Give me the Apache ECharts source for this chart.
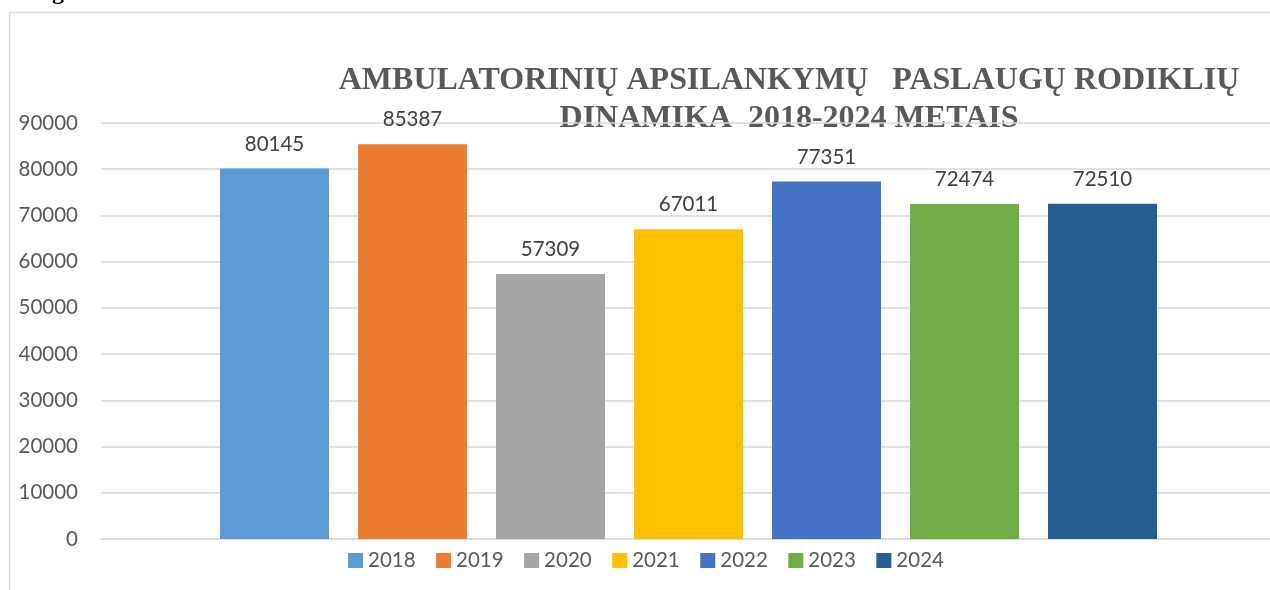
<!DOCTYPE html>
<html>
<head>
<meta charset="utf-8">
<script src="https://cdn.jsdelivr.net/npm/echarts@6/dist/echarts.min.js"></script>
<style>
  html, body { margin: 0; padding: 0; background: #fff; }
  #chart { width: 1270px; height: 590px; }
</style>
</head>
<body>
<div id="chart"></div>
<script>
  // metai ir apsilankymų skaičiai
  var years = ['2018', '2019', '2020', '2021', '2022', '2023', '2024'];
  var visits = [80145, 85387, 57309, 67011, 77351, 72474, 72510];
  var colors = ['#5B9BD5', '#ED7D31', '#A5A5A5', '#FFC000', '#4472C4', '#70AD47', '#255E91'];
  var yTicks = { min: 0, max: 90000, step: 10000 };

  var labelFont = 'Lato, "Noto Sans", sans-serif';

  var series = years.map(function (y, i) {
    return {
      name: y,
      type: 'bar',
      data: [visits[i]],
      barWidth: 109,
      barGap: '26.6%',
      itemStyle: { color: colors[i] },
      label: {
        show: true,
        position: 'top',
        distance: 14,
        color: '#404040',
        fontSize: 20.5,
        fontFamily: labelFont
      }
    };
  });

  var chart = echarts.init(document.getElementById('chart'));
  chart.setOption({
    animation: false,
    graphic: [
      {
        type: 'rect',
        shape: { x: 9.5, y: 12.5, width: 1400, height: 700 },
        style: { fill: 'none', stroke: '#d9d9d9', lineWidth: 1.5 },
        silent: true
      },
      {
        type: 'text',
        x: 16, y: 5,
        style: {
          text: 'Diagrama',
          font: 'bold 24px "Liberation Serif", serif',
          fill: '#000',
          verticalAlign: 'bottom'
        }
      },
      {
        type: 'text',
        x: 789, y: 62,
        style: {
          text: 'AMBULATORINIŲ APSILANKYMŲ   PASLAUGŲ RODIKLIŲ\nDINAMIKA  2018-2024 METAIS',
          font: 'bold 32px "Liberation Serif", serif',
          fill: '#595959',
          align: 'center',
          verticalAlign: 'top',
          lineHeight: 38
        }
      }
    ],
    legend: {
      data: years,
      left: 343,
      top: 545,
      itemWidth: 15,
      itemHeight: 15,
      itemGap: 20.5,
      icon: 'rect',
      textStyle: { color: '#595959', fontSize: 20.5, fontFamily: labelFont }
    },
    grid: {
      left: 101,
      right: -6,
      top: 123,
      bottom: 51,
      outerBoundsMode: 'none'
    },
    xAxis: {
      type: 'category',
      data: [''],
      axisLine: { show: true, lineStyle: { color: '#d9d9d9', width: 1.5 } },
      axisTick: { show: false },
      axisLabel: { show: false }
    },
    yAxis: {
      type: 'value',
      min: yTicks.min,
      max: yTicks.max,
      interval: yTicks.step,
      axisLine: { show: false },
      axisTick: { show: false },
      axisLabel: {
        color: '#595959',
        fontSize: 20.5,
        fontFamily: labelFont,
        margin: 23,
        formatter: function (v) { return String(v); }
      },
      splitLine: { lineStyle: { color: '#d9d9d9', width: 1.5 } }
    },
    series: series
  });
</script>
</body>
</html>
